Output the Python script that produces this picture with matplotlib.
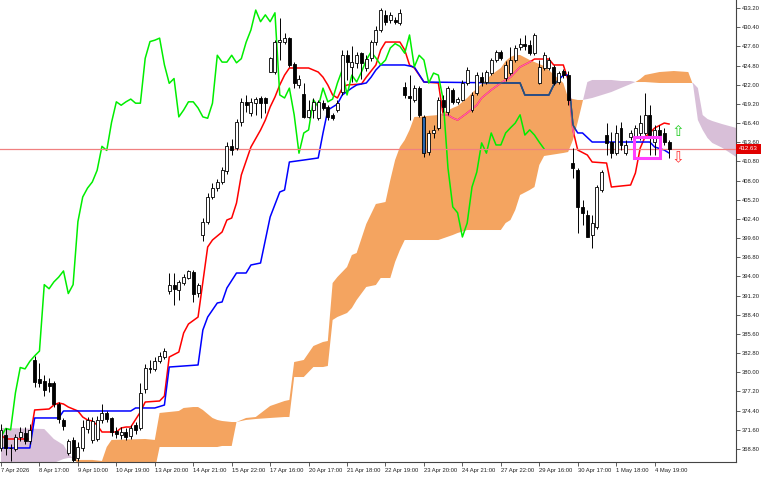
import numpy as np
import matplotlib.pyplot as plt
import matplotlib.transforms as mtransforms
from matplotlib.path import Path
from matplotlib.patches import PathPatch, Rectangle

# H-bars (index 0 = first visible bar)
opens = [368.9, 370.85, 369.0, 368.8, 370.6, 371.2, 370.0, 381.8, 379.0, 378.8,
         378.4, 378.4, 375.3, 373.1, 368.2, 370.1, 367.5, 369.0, 371.7, 370.1,
         370.3, 373.0, 374.0, 373.3, 371.4, 370.8, 371.3, 370.7, 372.3, 371.9,
         377.5, 380.6, 380.5, 381.7, 382.3, 391.8, 392.8, 392.0, 393.0, 393.8,
         394.7, 391.6, 400.0, 402.0, 405.6, 406.9, 407.8, 409.4, 413.0, 412.8,
         416.5, 419.5, 417.9, 419.3, 420.0, 420.0, 423.9, 423.9, 428.3, 428.3,
         428.8, 425.0, 421.95, 420.7, 417.3, 418.3, 417.1, 419.3, 418.7, 417.6,
         418.3, 420.9, 426.3, 424.6, 425.2, 426.6, 424.5, 425.9, 428.2, 430.0,
         432.2, 431.45, 431.5, 431.0, 421.7, 420.35, 419.8, 421.5, 417.3, 412.2,
         415.0, 415.7, 419.8, 418.0, 421.2, 419.5, 419.8, 422.25, 418.3, 420.8,
         423.1, 422.4, 423.7, 425.6, 426.8, 423.0, 423.7, 425.6, 427.5, 428.0,
         427.8, 426.6, 422.25, 424.4, 424.4, 424.6, 422.4, 424.0, 423.4, 410.57,
         409.55, 404.15, 402.97, 400.05, 401.2, 406.6, 414.65, 413.6, 412.0, 415.7,
         412.0, 414.4, 414.4, 414.95, 414.95, 417.6, 413.6, 415.4, 414.95, 413.6]
highs = [372.4, 371.9, 369.6, 371.0, 372.0, 372.0, 372.4, 382.4, 381.4, 379.6,
         379.1, 378.8, 375.6, 373.3, 370.2, 370.6, 369.8, 373.0, 373.5, 373.5,
         373.6, 375.4, 374.3, 373.5, 372.0, 372.0, 371.9, 372.3, 372.8, 378.5,
         381.2, 381.8, 382.3, 383.0, 383.6, 394.5, 394.5, 393.5, 394.3, 395.0,
         394.9, 393.0, 402.5, 406.2, 407.6, 408.3, 410.0, 413.6, 414.0, 417.0,
         420.0, 420.5, 420.0, 420.2, 420.3, 420.2, 426.1, 428.6, 431.7, 429.5,
         429.0, 425.3, 423.4, 422.2, 419.8, 420.0, 419.8, 419.8, 419.0, 417.8,
         419.8, 427.0, 427.0, 427.6, 426.8, 426.8, 426.3, 428.6, 430.5, 433.2,
         432.9, 432.6, 431.9, 433.0, 422.4, 423.4, 422.0, 421.8, 417.6, 415.4,
         416.1, 420.2, 420.5, 421.8, 421.5, 420.2, 422.7, 424.6, 420.9, 423.85,
         423.85, 424.15, 425.9, 427.1, 427.1, 425.5, 427.5, 427.8, 428.8, 429.26,
         428.5, 429.6, 425.6, 426.8, 426.0, 424.9, 424.0, 424.3, 424.0, 412.76,
         409.84, 405.2, 403.7, 403.0, 407.35, 409.55, 416.4, 415.1, 416.1, 416.55,
         413.9, 415.4, 416.1, 417.6, 420.8, 419.0, 416.1, 416.1, 415.7, 413.9]
lows = [368.5, 367.9, 367.1, 368.5, 370.0, 369.5, 369.6, 377.9, 377.8, 376.5,
        377.1, 375.0, 372.6, 371.6, 367.9, 366.9, 367.0, 368.5, 371.2, 369.7,
        370.0, 372.6, 372.8, 370.7, 370.4, 370.3, 370.1, 370.3, 371.0, 371.6,
        377.0, 379.9, 380.2, 381.4, 382.0, 391.4, 389.8, 390.6, 392.8, 393.6,
        390.3, 391.0, 399.2, 401.6, 405.3, 406.5, 407.5, 409.0, 411.8, 412.5,
        416.0, 418.0, 417.5, 417.6, 417.1, 417.8, 423.8, 423.6, 425.6, 427.9,
        424.6, 421.5, 421.5, 417.1, 417.1, 417.1, 416.8, 418.3, 416.9, 416.8,
        418.0, 420.5, 422.7, 422.4, 424.5, 422.8, 424.0, 425.5, 427.8, 429.7,
        430.7, 431.0, 430.8, 430.7, 420.1, 416.8, 419.5, 417.3, 411.4, 411.7,
        414.2, 415.4, 418.0, 417.6, 419.2, 419.2, 419.6, 422.0, 418.0, 420.5,
        421.8, 422.1, 423.4, 425.3, 425.6, 422.6, 423.4, 425.3, 427.1, 427.1,
        426.3, 426.3, 422.1, 424.1, 424.1, 422.0, 422.1, 423.0, 419.0, 408.4,
        400.3, 401.5, 399.7, 398.15, 401.0, 406.3, 411.7, 411.3, 411.7, 412.5,
        411.7, 413.9, 413.2, 413.9, 414.65, 411.7, 411.7, 413.9, 413.2, 411.3]
closes = [371.6, 369.0, 368.9, 370.6, 371.3, 369.9, 371.6, 378.6, 378.5, 377.4,
          378.0, 375.3, 373.2, 372.1, 369.9, 367.2, 369.1, 372.0, 373.0, 372.9,
          373.0, 374.0, 373.2, 371.3, 371.0, 371.3, 370.6, 371.8, 371.6, 377.0,
          380.7, 380.5, 381.6, 382.4, 383.1, 392.8, 392.2, 393.2, 393.9, 394.8,
          391.5, 392.8, 402.0, 405.6, 406.9, 407.8, 409.5, 413.0, 412.4, 416.5,
          419.5, 419.0, 419.5, 419.9, 419.3, 419.3, 425.85, 428.3, 428.5, 428.8,
          424.9, 422.2, 422.9, 417.3, 418.3, 419.5, 419.5, 418.6, 417.3, 417.1,
          419.3, 426.3, 425.3, 425.3, 426.3, 425.2, 425.8, 428.2, 430.0, 432.9,
          431.2, 432.2, 431.2, 432.5, 420.5, 420.06, 421.5, 417.6, 412.0, 414.95,
          415.4, 419.8, 418.75, 421.5, 419.5, 419.9, 422.25, 424.15, 420.5, 423.4,
          422.4, 423.85, 425.6, 426.8, 425.9, 424.9, 425.6, 427.36, 428.0, 427.6,
          426.6, 429.26, 424.6, 426.3, 425.6, 422.25, 423.7, 423.4, 419.8, 409.84,
          404.15, 403.3, 399.76, 401.8, 407.06, 409.25, 413.5, 412.0, 414.95, 413.2,
          413.2, 414.95, 415.7, 416.4, 417.6, 414.65, 415.4, 414.65, 413.6, 412.63]
blue_bar = 88

# Tenkan-sen (red) and Kijun-sen (blue), vertices
tenkan_idx = [0, 1, 6, 7, 10, 11, 12, 13, 14, 16, 17, 18, 19, 20, 21, 24, 25, 26, 27, 29,
              30, 33, 34, 35, 37, 38, 39, 41, 43, 44, 46, 47, 48, 49, 50, 52, 54, 55, 56, 57,
              58, 59, 60, 64, 66, 67, 68, 69, 70, 71, 72, 75, 76, 78, 79, 80, 83, 84, 85, 86,
              88, 91, 92, 93, 94, 95, 97, 99, 100, 102, 104, 106, 108, 110, 111, 114, 115, 117, 118, 119,
              120, 122, 123, 126, 127, 131, 132, 133, 134, 135, 136, 138, 139]
tenkan = [370.84, 370.26, 370.26, 374.50, 374.64, 375.22, 375.52, 375.37, 374.93, 374.35,
          373.47, 373.04, 372.89, 372.30, 371.28, 371.28, 371.87, 372.01, 372.01, 374.20,
          375.66, 375.81, 376.54, 382.23, 382.96, 385.74, 387.05, 388.07, 398.30, 399.32,
          400.49, 402.24, 402.53, 404.72, 408.81, 412.90, 415.38, 416.84, 418.74, 420.20,
          421.96, 423.40, 424.44, 424.44, 423.85, 423.10, 421.96, 420.50, 420.06, 421.52,
          421.96, 422.10, 423.10, 424.88, 427.07, 428.23, 428.23, 427.07, 424.88, 424.44,
          422.39, 422.25, 417.58, 417.58, 417.14, 416.84, 417.87, 419.03, 420.06, 421.23,
          422.25, 423.10, 424.58, 425.31, 425.75, 425.75, 424.88, 424.88, 422.69, 415.38,
          412.46, 411.73, 410.71, 410.56, 407.06, 407.35, 409.10, 412.75, 414.36, 414.95,
          415.68, 416.40, 416.26]
kijun_idx = [0, 6, 7, 12, 13, 27, 28, 32, 34, 35, 41, 42, 43, 45, 46, 47, 49, 51, 52, 54,
             56, 58, 59, 60, 63, 66, 67, 68, 70, 71, 73, 74, 76, 77, 78, 79, 84, 86, 88, 105,
             108, 109, 114, 115, 117, 118, 119, 120, 121, 123, 135, 136, 138, 139]
kijun = [368.95, 368.95, 373.33, 373.33, 374.35, 374.35, 374.79, 374.79, 375.22, 380.77,
         381.07, 386.18, 388.07, 390.12, 390.27, 392.31, 394.50, 394.50, 395.67, 395.96,
         402.68, 406.33, 406.62, 410.71, 411.00, 411.30, 414.95, 418.30, 419.18, 420.50,
         421.52, 421.96, 422.25, 423.10, 424.15, 424.88, 424.88, 424.58, 422.39, 422.25,
         422.25, 420.50, 420.50, 421.96, 423.40, 423.40, 416.10, 414.95, 414.95, 413.63,
         413.63, 412.90, 412.46, 412.02]

# Kumo (Senkou Span A / B), shifted 26 bars forward
cloud_idx = [0, 9, 10, 11, 13, 14, 15, 16, 19, 21, 22, 23, 30, 32, 33, 37, 38, 40, 41, 42,
             43, 44, 45, 46, 48, 49, 51, 53, 56, 59, 60, 61, 63, 65, 67, 68, 69, 70, 72, 73,
             74, 76, 78, 79, 80, 81, 82, 83, 84, 85, 86, 91, 94, 95, 97, 98, 102, 104, 105, 106,
             107, 108, 110, 111, 112, 113, 117, 118, 119, 120, 121, 122, 123, 125, 127, 129, 131, 132, 133, 134,
             137, 140, 143, 144, 145, 146, 147, 148, 150, 153]
span_a = [365.44, 365.73, 366.17, 366.76, 367.34, 367.49, 367.49, 367.20, 367.20, 367.05,
          369.09, 370.12, 370.26, 370.12, 374.06, 374.35, 374.79, 374.93, 374.93, 374.50,
          373.91, 373.33, 373.04, 372.89, 372.74, 372.74, 373.33, 373.47, 375.08, 375.81,
          375.96, 381.50, 381.80, 383.84, 384.43, 384.57, 393.04, 393.92, 395.38, 397.13,
          397.42, 401.66, 404.58, 404.72, 404.87, 408.08, 411.00, 412.90, 413.92, 415.38,
          417.28, 417.57, 418.60, 418.89, 420.06, 420.79, 423.42, 424.44, 425.46, 426.04,
          426.34, 426.34, 425.61, 425.31, 425.02, 424.73, 422.25, 420.06, 419.91, 419.77,
          419.77, 419.91, 420.06, 420.49, 420.93, 421.52, 422.10, 422.39, 422.83, 423.42,
          423.85, 424.00, 423.85, 421.96, 416.84, 415.38, 414.22, 413.49, 412.81, 411.44]
span_b = [371.87, 371.72, 370.99, 370.26, 369.39, 368.22, 367.34, 366.76, 366.46, 365.73,
          365.73, 365.73, 365.73, 365.73, 369.09, 369.09, 369.09, 369.09, 369.09, 369.09,
          369.09, 369.09, 369.09, 369.24, 369.24, 372.74, 373.04, 373.18, 373.33, 373.47,
          373.47, 379.31, 379.31, 380.77, 380.77, 380.92, 387.64, 388.08, 388.66, 389.39,
          390.56, 392.46, 392.75, 393.77, 393.77, 393.77, 396.11, 397.86, 399.32, 399.32,
          399.32, 399.32, 400.05, 400.34, 400.78, 400.78, 400.78, 400.78, 401.80, 402.24,
          403.70, 405.89, 406.62, 407.06, 410.27, 411.59, 412.03, 412.17, 413.92, 416.55,
          419.47, 422.39, 422.69, 422.69, 422.69, 422.54, 422.54, 422.39, 422.39, 422.39,
          422.25, 422.25, 422.25, 422.25, 421.52, 417.57, 416.99, 416.70, 416.26, 415.68]

bid = 412.63
tick_labels = ['7 Apr 2026', '8 Apr 17:00', '9 Apr 10:00', '10 Apr 19:00', '13 Apr 20:00',
               '14 Apr 21:00', '15 Apr 22:00', '17 Apr 16:00', '20 Apr 17:00', '21 Apr 18:00',
               '22 Apr 19:00', '23 Apr 20:00', '24 Apr 21:00', '27 Apr 22:00', '29 Apr 16:00',
               '30 Apr 17:00', '1 May 18:00', '4 May 19:00']

plt.rcParams['font.family'] = ['Liberation Sans', 'DejaVu Sans']

fig = plt.figure(figsize=(7.68, 4.80), dpi=100)
ax = fig.add_axes([0, 18 / 480, 736 / 768, 462 / 480])

# cloud
ci = np.array(cloud_idx, dtype=float)
sa = np.array(span_a)
sb = np.array(span_b)
orange = ax.fill_between(ci, sa, sb, where=sa >= sb, interpolate=True,
                         color='#f4a460', lw=0, zorder=1)
ax.fill_between(ci, sa, sb, where=sa < sb, interpolate=True,
                color='#d8bfd8', lw=0, zorder=1)

# tenkan / kijun, recoloured where they run inside the orange cloud
clip = PathPatch(Path.make_compound_path(*orange.get_paths()), transform=ax.transData)
ax.plot(tenkan_idx, tenkan, color='#ff0000', lw=1.1, zorder=2)
ax.plot(kijun_idx, kijun, color='#0000ff', lw=1.1, zorder=2)
pink, = ax.plot(tenkan_idx, tenkan, color='#ff5fa8', lw=1.1, zorder=2.5)
teal, = ax.plot(kijun_idx, kijun, color='#2a5a6a', lw=1.1, zorder=2.5)
pink.set_clip_path(clip)
teal.set_clip_path(clip)

# chikou span = closes moved 26 bars back
ax.plot(np.arange(len(closes) - 26), closes[26:], color='#00ee00', lw=1.1, zorder=3)

ax.axhline(bid, color='#f08080', lw=0.9, zorder=3.5)

# candles
o = np.array(opens)
h = np.array(highs)
l = np.array(lows)
c = np.array(closes)
x = np.arange(len(c))
face = np.where(c >= o, 'white', 'black').astype(object)
face[blue_bar] = '#2a64ad'
ax.vlines(x, l, h, color='black', lw=0.7, zorder=4)
ax.bar(x, np.maximum(np.abs(c - o), 0.08), bottom=np.minimum(o, c), width=0.62,
       color=list(face), edgecolor='black', linewidth=0.6, zorder=5)

# user objects
ax.add_patch(Rectangle((131.7, 411.3), 5.4, 3.06, fill=False,
                       edgecolor='#ff40ff', lw=2.2, zorder=6))
ax.text(140.9, 415.1, '\u21e7', color='#22cc22', fontsize=11, ha='center', va='center',
        family='DejaVu Sans', zorder=6)
ax.text(140.9, 411.4, '\u21e9', color='#ff3333', fontsize=11, ha='center', va='center',
        family='DejaVu Sans', zorder=6)

ax.set_xlim(-0.21, 152.93)
ax.set_ylim(366.90, 434.37)

ax.set_xticks(np.arange(len(tick_labels)) * 8)
ax.set_xticklabels(tick_labels, fontsize=4.2, color='#222222')
off = mtransforms.ScaledTranslation(1.5 / 72, 0, fig.dpi_scale_trans)
for lab in ax.get_xticklabels():
    lab.set_horizontalalignment('left')
    lab.set_transform(lab.get_transform() + off)

yt = np.round(368.8 + 2.8 * np.arange(24), 2)
ax.yaxis.tick_right()
ax.set_yticks(yt)
ax.set_yticklabels(['%.2f' % v for v in yt], fontsize=4.2, color='#222222')
ax.tick_params(axis='both', length=3, width=0.6, pad=1.5, colors='#444444')
ax.tick_params(axis='both', labelcolor='#222222')

for s in ['top', 'left']:
    ax.spines[s].set_visible(False)
for s in ['right', 'bottom']:
    ax.spines[s].set_color('#444444')
    ax.spines[s].set_linewidth(0.8)

ax.text(1.004, bid, '%.2f' % bid,
        transform=mtransforms.blended_transform_factory(ax.transAxes, ax.transData),
        ha='left', va='center', fontsize=4.4, color='white', zorder=7,
        bbox=dict(boxstyle='square,pad=0.45', fc='#e00000', ec='none'))

fig.savefig('out.png', dpi=100)
